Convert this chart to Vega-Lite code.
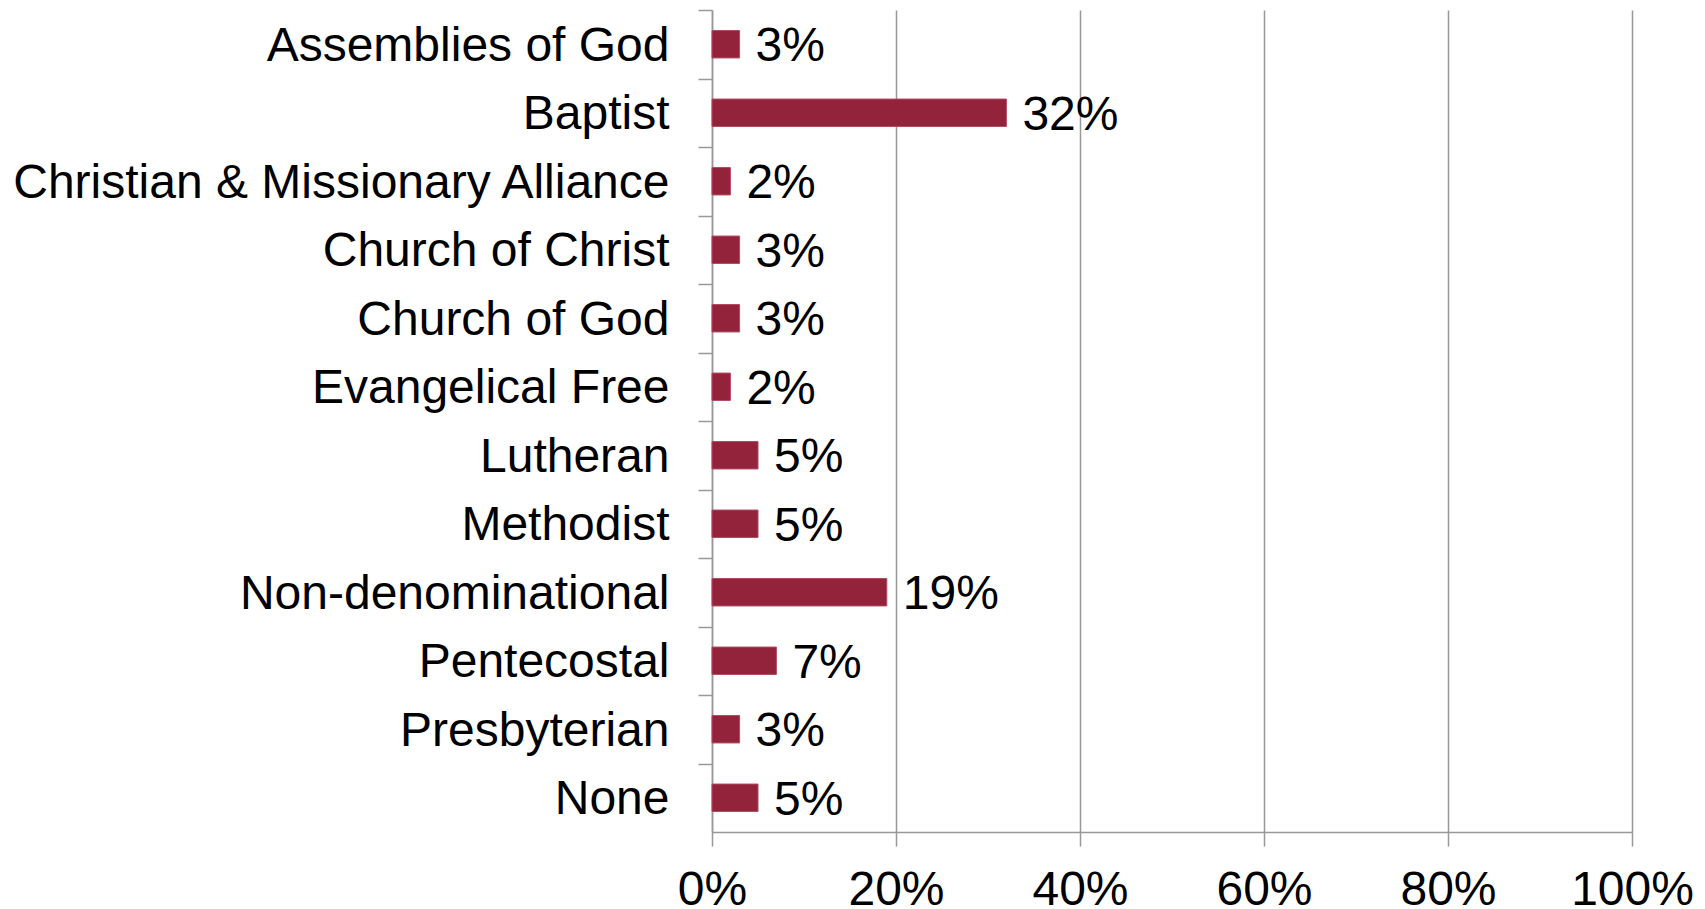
{
  "$schema": "https://vega.github.io/schema/vega-lite/v6.json",
  "width": 920,
  "height": 822,
  "autosize": {"type": "none"},
  "padding": {"left": 712, "top": 10, "right": 73, "bottom": 77},
  "background": "white",
  "config": {
    "view": {"stroke": null},
    "font": "Liberation Sans"
  },
  "data": {
    "values": [
      {"denomination": "Assemblies of God", "share": 0.03},
      {"denomination": "Baptist", "share": 0.32},
      {"denomination": "Christian & Missionary Alliance", "share": 0.02},
      {"denomination": "Church of Christ", "share": 0.03},
      {"denomination": "Church of God", "share": 0.03},
      {"denomination": "Evangelical Free", "share": 0.02},
      {"denomination": "Lutheran", "share": 0.05},
      {"denomination": "Methodist", "share": 0.05},
      {"denomination": "Non-denominational", "share": 0.19},
      {"denomination": "Pentecostal", "share": 0.07},
      {"denomination": "Presbyterian", "share": 0.03},
      {"denomination": "None", "share": 0.05}
    ]
  },
  "encoding": {
    "y": {
      "field": "denomination",
      "type": "nominal",
      "sort": null,
      "title": null,
      "scale": {"paddingInner": 0.6, "paddingOuter": 0.3},
      "axis": {
        "labelFontSize": 48,
        "labelColor": "black",
        "labelFont": "Liberation Sans",
        "labelPadding": 29,
        "labelLimit": 800,
        "tickSize": 14,
        "tickColor": "#999999",
        "tickWidth": 1.5,
        "domainColor": "#999999",
        "domainWidth": 1.5,
        "tickOffset": -34.25,
        "labelOffset": 36,
        "grid": false
      }
    }
  },
  "layer": [
    {
      "mark": {"type": "bar", "color": "#92233A", "stroke": "#B04A5F", "strokeWidth": 1},
      "encoding": {
        "x": {
          "field": "share",
          "type": "quantitative",
          "title": null,
          "scale": {"domain": [0, 1], "nice": false},
          "axis": {
            "format": ".0%",
            "values": [0, 0.2, 0.4, 0.6, 0.8, 1],
            "labelFontSize": 48,
            "labelColor": "black",
            "labelFont": "Liberation Sans",
            "labelPadding": 20,
            "labelFlush": false,
            "labelOverlap": false,
            "tickSize": 14,
            "tickColor": "#999999",
            "tickWidth": 1.5,
            "domainColor": "#999999",
            "domainWidth": 1.5,
            "grid": true,
            "gridColor": "#999999",
            "gridWidth": 1.5
          }
        }
      }
    },
    {
      "mark": {"type": "text", "align": "left", "baseline": "middle", "dx": 16, "dy": 3, "fontSize": 48, "font": "Liberation Sans", "color": "black"},
      "encoding": {
        "x": {"field": "share", "type": "quantitative"},
        "text": {"field": "share", "type": "quantitative", "format": ".0%"}
      }
    }
  ]
}
